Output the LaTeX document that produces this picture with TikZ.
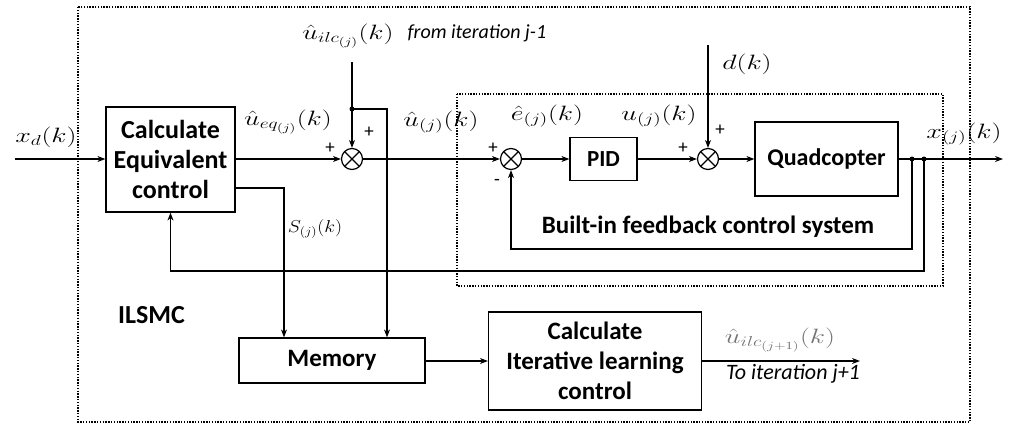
\documentclass[tikz,border=0pt]{standalone}
\usepackage{fontspec}
\setmainfont{Carlito}
\usetikzlibrary{arrows.meta,calc}
\newcommand\stretchm[1]{\scalebox{1.35}[1]{$#1$}}
\begin{document}
\begin{tikzpicture}[x=1pt,y=-1pt,
  line width=1.2pt,
  blk/.style={draw,line width=1.2pt,align=center,inner sep=0pt},
  bt/.style={font=\fontsize{#1}{30}\selectfont\bfseries},
  sumc/.style={draw,circle,line width=1.2pt,minimum size=21pt,inner sep=0pt,
     path picture={\draw[line width=1.2pt] (path picture bounding box.north west)--(path picture bounding box.south east)
       (path picture bounding box.north east)--(path picture bounding box.south west);}},
  arr/.style={-{Stealth[length=8pt,width=6pt]}},
  dots/.style={line width=1.1pt,dash pattern=on 1.4pt off 1.4pt},
  ml/.style={font=\fontsize{21}{24}\selectfont,inner sep=0pt},
  pm/.style={font=\fontsize{19}{21}\selectfont,inner sep=0pt},
  dotc/.style={circle,fill,minimum size=5pt,inner sep=0pt}]
\useasboundingbox (0,0) rectangle (1027,426);
% dotted frames
\draw[dots] (78,7) rectangle (970,422);
\draw[dots] (457,94) rectangle (943,286);
% blocks
\node[blk,bt=26,minimum width=129pt,minimum height=105pt] (eq) at (170.5,159.5) {Calculate\\Equivalent\\control};
\node[sumc] (s1) at (352,159) {};
\node[sumc] (s2) at (511,159) {};
\node[blk,bt=23,minimum width=67pt,minimum height=43pt] (pid) at (603.5,159) {PID};
\node[sumc] (s3) at (708,159) {};
\node[blk,bt=24,minimum width=143pt,minimum height=74pt] (quad) at (826.5,159) {Quadcopter};
\node[blk,bt=25,minimum width=186pt,minimum height=45pt] (mem) at (332,360.5) {Memory};
\node[blk,bt=25,minimum width=213pt,minimum height=98pt] (ilc) at (595,361) {Calculate\\Iterative learning\\control};
% coordinates
\coordinate (xd) at (15,159);
\coordinate (ilcin) at (352,62);
\coordinate (jn) at (352,109);
\coordinate (c2) at (387,109);
\coordinate (sc) at (284,188);
\coordinate (dtop) at (708,45);
\coordinate (dot1) at (912,159);
\coordinate (dot2) at (924,159);
\coordinate (out) at (1003,159);
\coordinate (fb1) at (912,249);
\coordinate (fb2) at (924,271);
\coordinate (out2) at (860,361);
% connectors
\draw[arr] (xd) -- (xd -| eq.west);
\draw[arr] (s1 -| eq.east) -- (s1);
\draw[arr] (ilcin) -- (s1);
\draw[arr] (jn) -- (c2) -- (c2 |- mem.north);
\draw[arr] (sc -| eq.east) -- (sc) -- (sc |- mem.north);
\draw[arr] (s1) -- (s2);
\draw[arr] (s2) -- (pid);
\draw[arr] (pid) -- (s3);
\draw[arr] (dtop) -- (s3);
\draw[arr] (s3) -- (quad);
\draw[arr] (quad.east |- out) -- (out);
\draw[arr] (dot1) -- (fb1) -| (s2.south);
\draw[arr] (dot2) -- (fb2) -| (eq.south);
\draw[arr] (mem.east |- out2) -- (ilc.west |- out2);
\draw[arr] (ilc.east |- out2) -- (out2);
\node[dotc] (d0) at (jn) {};
\node[dotc] (d1) at (dot1) {};
\node[dotc] (d2) at (dot2) {};
% labels
\node[ml] (lxd) at (46,137) {\stretchm{x_d(k)}};
\node[ml] (lueq) at (288,122) {\stretchm{\hat u_{eq_{(j)}}(k)}};
\node[ml] (lilc) at (348,36) {\stretchm{\hat u_{ilc_{(j)}}(k)}};
\node[anchor=west,inner sep=0pt,font=\fontsize{20}{22}\selectfont\itshape] (lfrom) at (407,33) {from iteration j-1};
\node[ml] (lu) at (441,122) {\stretchm{\hat u_{(j)}(k)}};
\node[ml] (le) at (547,116) {\stretchm{\hat e_{(j)}(k)}};
\node[ml] (lupid) at (659,116) {\stretchm{u_{(j)}(k)}};
\node[ml] (ld) at (747,64) {\stretchm{d(k)}};
\node[ml] (lx) at (964,134) {\stretchm{x_{(j)}(k)}};
\node[ml,font=\fontsize{18}{20}\selectfont] (ls) at (315,229) {\scalebox{1.15}[1]{$S_{(j)}(k)$}};
\node[inner sep=0pt,bt=25] (lbuilt) at (708,227) {Built-in feedback control system};
\node[inner sep=0pt,bt=26] (lilsmc) at (151.5,315) {ILSMC};
\node[ml,text=black!55] (lnext) at (780,340) {\stretchm{\hat u_{ilc_{(j+1)}}(k)}};
\node[inner sep=0pt,font=\fontsize{22}{24}\selectfont\itshape] (lto) at (793,374) {To iteration j+1};
\node[pm] (p1) at (330,148) {+};
\node[pm] (p2) at (369,132) {+};
\node[pm] (p3) at (493,148) {+};
\node[pm] (p4) at (497,182) {-};
\node[pm] (p5) at (683,148) {+};
\node[pm] (p6) at (720,130) {+};
\end{tikzpicture}
\end{document}
